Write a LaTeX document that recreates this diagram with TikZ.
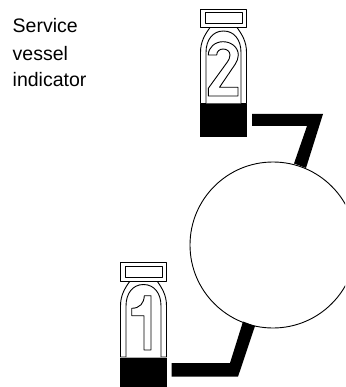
\documentclass[tikz,border=0pt]{standalone}
\usepackage{fontspec}
\setmainfont{Liberation Sans}
\tikzset{
  ln/.style={draw=black,line width=0.9pt,fill=white,line join=round},
  solid fill/.style={fill=black,draw=none},
  caption/.style={anchor=base west,inner sep=0pt,font=\fontsize{19.5}{22}\selectfont}
}
\newcommand{\vessel}[2]{%
  \begin{scope}[shift={(#1,#2)}]
    % neck and dome, outer
    \path[ln] (0.5,95) -- (0.5,44) .. controls (0.5,33) and (5,26) .. (10,19) -- (37,19) .. controls (42,26) and (46.5,33) .. (46.5,44) -- (46.5,95) -- cycle;
    % dome, inner
    \path[ln] (6,95) -- (6,44) .. controls (6,31) and (13,22.5) .. (23.5,22.5) .. controls (34,22.5) and (41,31) .. (41,44) -- (41,95);
    % cap
    \path[ln] (0.5,0.5) rectangle (46.5,19);
    \path[ln] (5,4) rectangle (42.7,15);
  \end{scope}}
\begin{document}
\begin{tikzpicture}[x=1pt,y=-1pt]
\useasboundingbox (0,0) rectangle (345,387);
\clip (0,0) rectangle (345,387);
% circle
\path[ln] (273,245) circle [radius=83];
% pipes
\path[solid fill] (252,114) -- (323,114) -- (306,168) -- (294,163.5) -- (307,126) -- (252,126) -- cycle;
\path[solid fill] (171.5,363) -- (230,363) -- (243,321.5) -- (255,326) -- (238,376.7) -- (171.5,376.7) -- cycle;
% vessel 2
\vessel{200}{8.5}
\path[solid fill] (200,104.5) rectangle (247,137.5);
\path[ln] (238,96) -- (208.3,96) -- (208.3,88.3) -- (227,62.5) .. controls (229,59.5) and (230,57.5) .. (230,55) .. controls (230,51.5) and (227,49) .. (223,49) .. controls (219.5,49) and (216.7,51.5) .. (216.7,55) -- (208.3,55) .. controls (208.3,47.5) and (215,41.7) .. (223,41.7) .. controls (231.5,41.7) and (238.3,47.5) .. (238.3,55) .. controls (238.3,58.5) and (237,61.5) .. (235,64.5) -- (219.5,87.3) -- (238,87.3) -- cycle;
% vessel 1
\vessel{120}{262}
\path[solid fill] (120,357.5) rectangle (167,387);
\path[ln] (144,350) -- (151,350) -- (151,295.7) -- (144.3,295.7) .. controls (144,303) and (140,308.3) .. (131.7,308.3) -- (131.7,315.7) -- (144,315.7) -- cycle;
% caption
\node[caption] (l1) at (12.5,33) {Service};
\node[caption] (l2) at (12.5,60.5) {vessel};
\node[caption] (l3) at (12.5,87) {indicator};
\end{tikzpicture}
\end{document}
